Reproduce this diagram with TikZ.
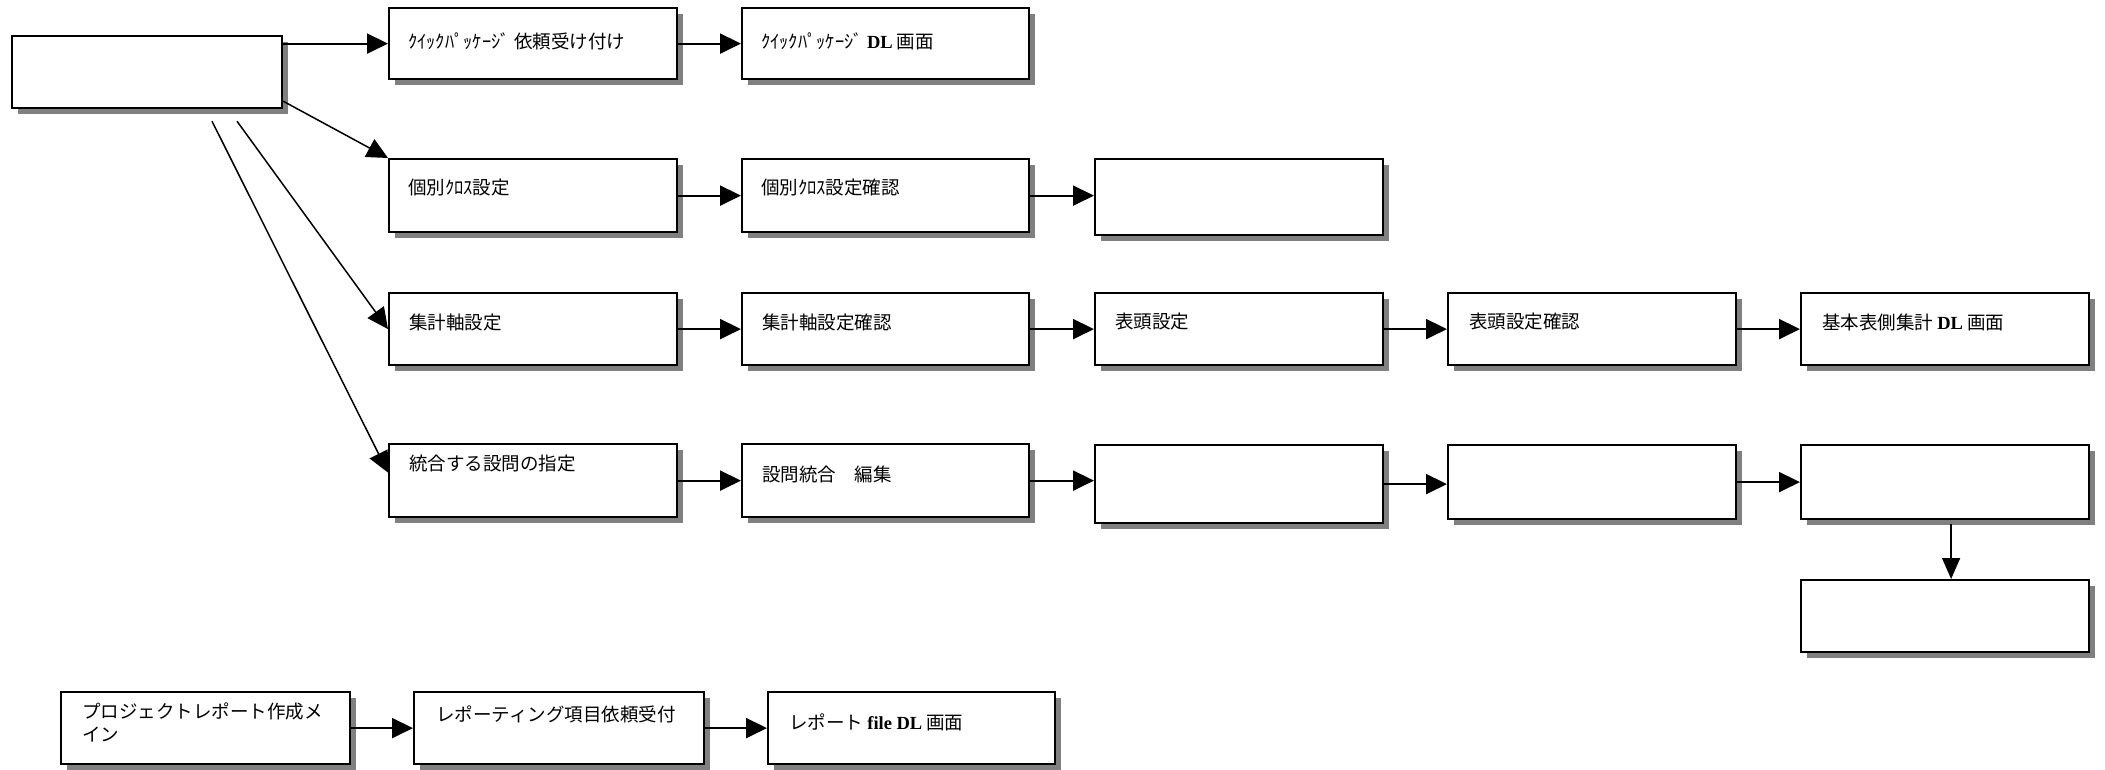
\documentclass[tikz,border=0pt]{standalone}
\usepackage{fontspec}
\setmainfont{Noto Sans CJK JP}
\newfontfamily\lat{Liberation Serif}
\usetikzlibrary{arrows.meta,shadows,calc}
\begin{document}
\begin{tikzpicture}[x=1pt,y=-1pt,
  box/.style={draw=black, line width=2.2pt, fill=white, anchor=north west, inner sep=0pt,
    drop shadow={shadow xshift=6pt, shadow yshift=-6pt, fill=black!50, opacity=1}},
  txt/.style={anchor=west, inner sep=0pt, font=\fontsize{18.5}{23}\selectfont, align=left},
  arr/.style={line width=2pt, -{Triangle[length=21pt,width=20pt]}},
  darr/.style={line width=1.5pt, -{Triangle[length=21pt,width=20pt]}},
  varr/.style={line width=1.5pt, -{Triangle[length=21pt,width=18pt]}}
]
\useasboundingbox (0,0) rectangle (2105,769);

% boxes
\node[box, minimum width=270pt, minimum height=72pt] (A) at (11,35) {};
\node[box, minimum width=288pt, minimum height=71pt] (q1) at (388,7) {};
\node[box, minimum width=287pt, minimum height=71pt] (q2) at (741,7) {};

\node[box, minimum width=288pt, minimum height=73pt] (r2c1) at (388,158) {};
\node[box, minimum width=287pt, minimum height=73pt] (r2c2) at (741,158) {};
\node[box, minimum width=288pt, minimum height=76pt] (r2c3) at (1094,158) {};

\node[box, minimum width=288pt, minimum height=72pt] (r3c1) at (388,292) {};
\node[box, minimum width=287pt, minimum height=72pt] (r3c2) at (741,292) {};
\node[box, minimum width=288pt, minimum height=72pt] (r3c3) at (1094,292) {};
\node[box, minimum width=288pt, minimum height=72pt] (r3c4) at (1447,292) {};
\node[box, minimum width=288pt, minimum height=72pt] (r3c5) at (1800,292) {};

\node[box, minimum width=288pt, minimum height=73pt] (r4c1) at (388,443) {};
\node[box, minimum width=287pt, minimum height=73pt] (r4c2) at (741,443) {};
\node[box, minimum width=288pt, minimum height=78pt] (r4c3) at (1094,444) {};
\node[box, minimum width=288pt, minimum height=74pt] (r4c4) at (1447,444) {};
\node[box, minimum width=288pt, minimum height=74pt] (r4c5) at (1800,444) {};
\node[box, minimum width=288pt, minimum height=72pt] (r5c5) at (1800,579) {};

\node[box, minimum width=289pt, minimum height=72pt] (b1) at (60,691) {};
\node[box, minimum width=290pt, minimum height=72pt] (b2) at (413,691) {};
\node[box, minimum width=287pt, minimum height=72pt] (b3) at (767,691) {};

% texts
\node[txt] (tq1) at ($(q1.north west)+(20,34)$) {ｸｲｯｸﾊﾟｯｹｰｼﾞ 依頼受け付け};
\node[txt] (tq2) at ($(q2.north west)+(20,34)$) {ｸｲｯｸﾊﾟｯｹｰｼﾞ {\lat\bfseries DL} 画面};
\node[txt] (t21) at ($(r2c1.north west)+(20,30)$) {個別ｸﾛｽ設定};
\node[txt] (t22) at ($(r2c2.north west)+(20,30)$) {個別ｸﾛｽ設定確認};
\node[txt] (t31) at ($(r3c1.north west)+(21,30)$) {集計軸設定};
\node[txt] (t32) at ($(r3c2.north west)+(21,30)$) {集計軸設定確認};
\node[txt] (t33) at ($(r3c3.north west)+(21,30)$) {表頭設定};
\node[txt] (t34) at ($(r3c4.north west)+(22,30)$) {表頭設定確認};
\node[txt] (t35) at ($(r3c5.north west)+(22,30)$) {基本表側集計 {\lat\bfseries DL} 画面};
\node[txt] (t41) at ($(r4c1.north west)+(21,21)$) {統合する設問の指定};
\node[txt] (t42) at ($(r4c2.north west)+(21,31)$) {設問統合　編集};
\node[txt] (tb1) at ($(b1.north west)+(22,31)$) {プロジェクトレポート作成メ\\イン};
\node[txt] (tb2) at ($(b2.north west)+(23,23)$) {レポーティング項目依頼受付};
\node[txt] (tb3) at ($(b3.north west)+(22,31)$) {レポート {\lat\bfseries file DL} 画面};

% free starts of the long diagonals
\coordinate (s3) at ($(A.south west)+(226,12)$);
\coordinate (s4) at ($(A.south west)+(201,12)$);

% connectors
\draw[arr] (A.east |- q1.west) -- (q1.west);
\draw[arr] (q1.east) -- (q1.east -| q2.west);
\draw[darr] ($(A.south east)+(0,-8)$) -- (r2c1.north west);
\draw[darr] (s3) -- (r3c1.west);
\draw[darr] (s4) -- ($(r4c1.west)+(0,-8)$);

\draw[arr] (r2c1.east) -- (r2c1.east -| r2c2.west);
\draw[arr] (r2c2.east) -- (r2c2.east -| r2c3.west);

\draw[arr] (r3c1.east) -- (r3c1.east -| r3c2.west);
\draw[arr] (r3c2.east) -- (r3c2.east -| r3c3.west);
\draw[arr] (r3c3.east) -- (r3c3.east -| r3c4.west);
\draw[arr] (r3c4.east) -- (r3c4.east -| r3c5.west);

\draw[arr] (r4c1.east) -- (r4c1.east -| r4c2.west);
\draw[arr] (r4c2.east) -- (r4c2.east -| r4c3.west);
\draw[arr] (r4c3.east) -- (r4c3.east -| r4c4.west);
\draw[arr] (r4c4.east) -- (r4c4.east -| r4c5.west);
\draw[varr] ($(r4c5.south)+(6,4)$) -- ($(r5c5.north)+(6,0)$);

\draw[arr] (b1.east) -- (b1.east -| b2.west);
\draw[arr] (b2.east) -- (b2.east -| b3.west);
\end{tikzpicture}
\end{document}
